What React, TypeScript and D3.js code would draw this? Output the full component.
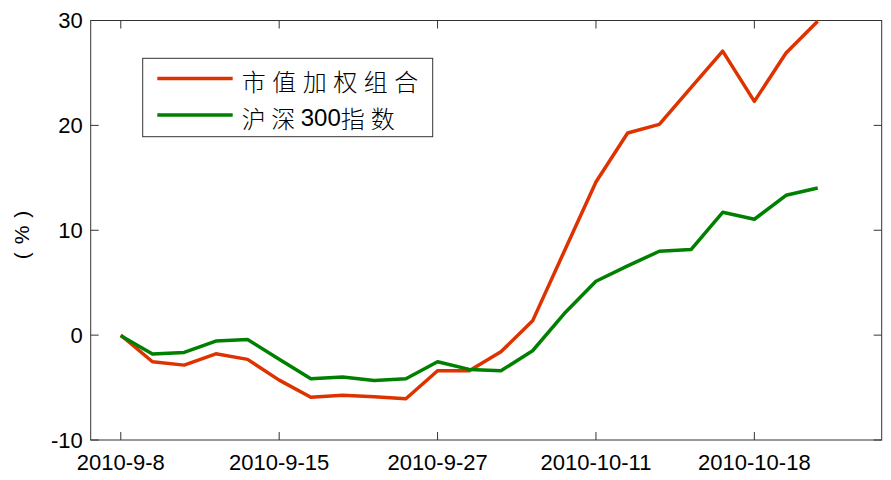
import React from "react";
import * as d3 from "d3";

const tickLabels = ["2010-9-8", "2010-9-15", "2010-9-27", "2010-10-11", "2010-10-18"];
const tickIndex = [0, 5, 10, 15, 20];
const seriesNames = ["市值加权组合", "沪深300指数"];
const capWeighted = [0, -2.54, -2.86, -1.78, -2.31, -4.29, -5.93, -5.74, -5.88, -6.07, -3.4, -3.4, -1.59, 1.36, 8.0, 14.6, 19.27, 20.1, 23.6, 27.08, 22.29, 26.9, 29.93];
const hs300 = [-0.05, -1.81, -1.65, -0.57, -0.41, -2.31, -4.16, -4.0, -4.32, -4.16, -2.54, -3.27, -3.4, -1.49, 2.06, 5.14, 6.6, 8.0, 8.16, 11.71, 11.05, 13.33, 14.03];
const yTicks = [-10, 0, 10, 20, 30];
const colors = ["#dd3300", "#008000"];

const W = 891;
const H = 480;
const left = 90.7;
const right = 881.7;
const top = 20.5;
const bottom = 440;

export default function App() {
  const x = d3.scaleLinear().domain([-0.95, 24.02]).range([left, right]);
  const y = d3.scaleLinear().domain([-10, 30]).range([bottom, top]);
  const line = d3
    .line<number>()
    .x((_, i) => x(i))
    .y((d) => y(d));
  const series = [capWeighted, hs300];
  const axisColor = "#333";
  const tickLen = 8;
  const font = "'Liberation Sans', Arial, Helvetica, sans-serif";
  const cjk = "'Noto Sans CJK SC', sans-serif";

  return (
    <svg
      width={W}
      height={H}
      style={{ position: "absolute", left: 0, top: 0, background: "#fff" }}
    >
      <defs>
        <clipPath id="plot">
          <rect x={left} y={top - 1} width={right - left} height={bottom - top + 1} />
        </clipPath>
      </defs>
      {/* frame */}
      <rect x={left} y={top} width={right - left} height={bottom - top} fill="none" stroke={axisColor} strokeWidth={1} />
      {/* y ticks */}
      {yTicks.map((t) => (
        <g key={"y" + t}>
          <line x1={left} x2={left + tickLen} y1={y(t)} y2={y(t)} stroke={axisColor} strokeWidth={1} />
          <line x1={right} x2={right - tickLen} y1={y(t)} y2={y(t)} stroke={axisColor} strokeWidth={1} />
          <text
            x={left - 8}
            y={y(t)}
            textAnchor="end"
            dominantBaseline="central"
            fontFamily={font}
            fontSize={22}
            fill="#000"
          >
            {t}
          </text>
        </g>
      ))}
      {/* x ticks */}
      {tickIndex.map((ti, k) => (
        <g key={"x" + ti}>
          <line x1={x(ti)} x2={x(ti)} y1={bottom} y2={bottom - tickLen} stroke={axisColor} strokeWidth={1} />
          <line x1={x(ti)} x2={x(ti)} y1={top} y2={top + tickLen} stroke={axisColor} strokeWidth={1} />
          <text
            x={x(ti)}
            y={470}
            textAnchor="middle"
            fontFamily={font}
            fontSize={22}
            fill="#000"
          >
            {tickLabels[k]}
          </text>
        </g>
      ))}
      {/* series */}
      <g clipPath="url(#plot)">
        {series.map((s, i) => (
          <path
            key={"s" + i}
            d={line(s) || ""}
            fill="none"
            stroke={colors[i]}
            strokeWidth={3.5}
            strokeLinejoin="round"
          />
        ))}
      </g>
      {/* y label */}
      <text
        transform="translate(21,235) rotate(-90)"
        textAnchor="middle"
        dominantBaseline="central"
        fontFamily={font}
        fontSize={21}
        fill="#000"
      >
        <tspan letterSpacing={8}>(%</tspan>
        <tspan>)</tspan>
      </text>
      {/* legend */}
      <g>
        <rect x={142.7} y={58.3} width={290} height={78.4} fill="#fff" stroke={axisColor} strokeWidth={1} />
        {seriesNames.map((name, i) => {
          const ly = i === 0 ? 78.5 : 115;
          return (
            <g key={"l" + i}>
              <line x1={157.3} x2={232.7} y1={ly} y2={ly} stroke={colors[i]} strokeWidth={3.5} />
              <text
                x={241.7}
                y={ly + 1.5}
                dominantBaseline="central"
                fontFamily={cjk}
                fontSize={24}
                fontWeight={300}
                fill="#000"
              >
                {i === 0 ? (
                  <tspan letterSpacing={6.5}>{name}</tspan>
                ) : (
                  <>
                    <tspan letterSpacing={5.5}>{name.slice(0, 2)}</tspan>
                    <tspan fontFamily={font} letterSpacing={0}>{name.slice(2, 5)}</tspan>
                    <tspan letterSpacing={6}>{name.slice(5)}</tspan>
                  </>
                )}
              </text>
            </g>
          );
        })}
      </g>
    </svg>
  );
}
